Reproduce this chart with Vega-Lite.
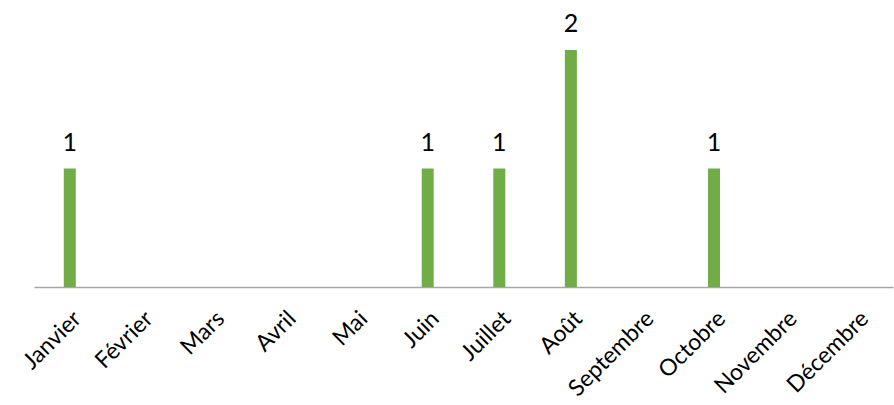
{
  "$schema": "https://vega.github.io/schema/vega-lite/v6.json",
  "width": 859,
  "height": 237,
  "autosize": {"type": "none"},
  "padding": {"left": 34, "top": 50, "right": 1, "bottom": 118},
  "background": "#ffffff",
  "config": {"view": {"stroke": null}, "font": "Lato"},
  "data": {
    "values": [
      {"mois": "Janvier", "valeur": 1},
      {"mois": "Février", "valeur": 0},
      {"mois": "Mars", "valeur": 0},
      {"mois": "Avril", "valeur": 0},
      {"mois": "Mai", "valeur": 0},
      {"mois": "Juin", "valeur": 1},
      {"mois": "Juillet", "valeur": 1},
      {"mois": "Août", "valeur": 2},
      {"mois": "Septembre", "valeur": 0},
      {"mois": "Octobre", "valeur": 1},
      {"mois": "Novembre", "valeur": 0},
      {"mois": "Décembre", "valeur": 0}
    ]
  },
  "encoding": {
    "x": {
      "field": "mois",
      "type": "nominal",
      "sort": null,
      "scale": {"paddingInner": 0, "paddingOuter": 0},
      "axis": {
        "title": null,
        "labelAngle": -45,
        "labelFontSize": 23,
        "labelColor": "#000000",
        "labelPadding": 20,
        "labelDx": 6,
        "ticks": false,
        "domainColor": "#A6A6A6",
        "domainWidth": 1.5
      }
    },
    "y": {
      "field": "valeur",
      "type": "quantitative",
      "scale": {"domain": [0, 2]},
      "axis": null
    }
  },
  "layer": [
    {"mark": {"type": "bar", "color": "#70AD47", "size": 12}},
    {
      "transform": [{"filter": "datum.valeur > 0"}],
      "mark": {"type": "text", "baseline": "alphabetic", "dy": -18, "fontSize": 25, "color": "#000000"},
      "encoding": {"text": {"field": "valeur", "type": "quantitative"}}
    }
  ]
}
